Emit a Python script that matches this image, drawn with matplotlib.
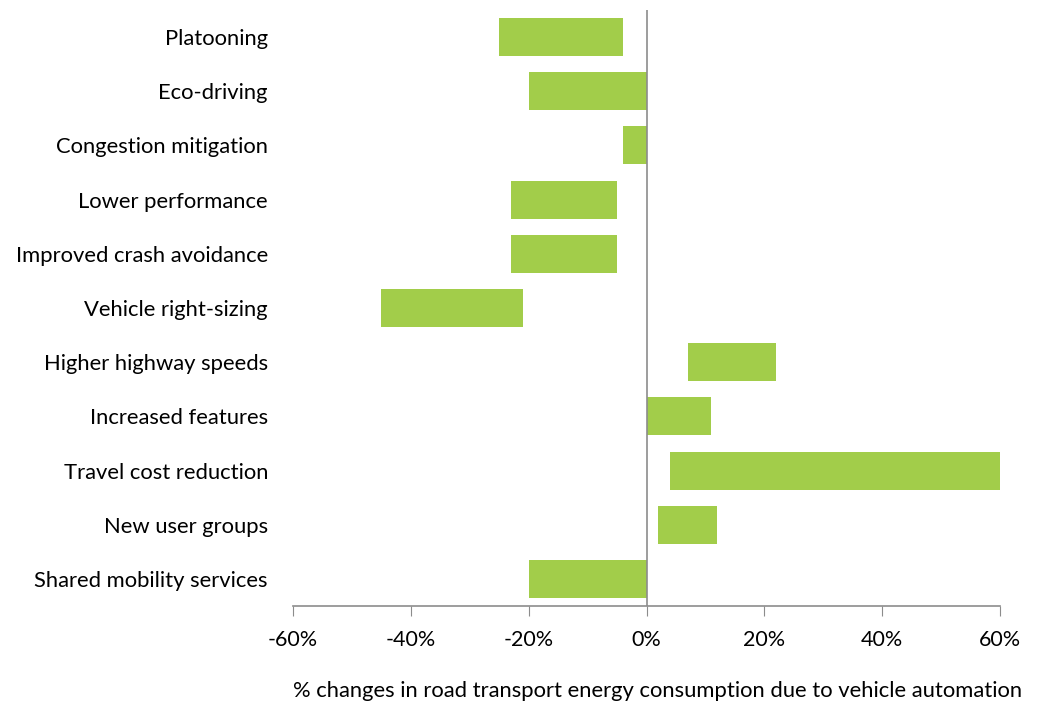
import numpy as np
import matplotlib
matplotlib.use("Agg")
import matplotlib.pyplot as plt
from matplotlib.ticker import FuncFormatter

plt.rcParams["font.family"] = ["Lato", "DejaVu Sans"]

categories = [
    "Platooning", "Eco-driving", "Congestion mitigation", "Lower performance",
    "Improved crash avoidance", "Vehicle right-sizing", "Higher highway speeds",
    "Increased features", "Travel cost reduction", "New user groups",
    "Shared mobility services",
]
low = [-25, -20, -4, -23, -23, -45, 7, 0, 4, 2, -20]
high = [-4, 0, 0, -5, -5, -21, 22, 11, 60, 12, 0]
xticks = [-60, -40, -20, 0, 20, 40, 60]

fig = plt.figure(figsize=(10.4, 7.05), dpi=100)
ax = fig.add_axes([293 / 1040, 1 - 606 / 705, 707 / 1040, 596 / 705])

y = np.arange(len(categories))
widths = np.array(high) - np.array(low)
ax.barh(y, widths, left=low, height=0.7, color="#A2CD4A")

ax.set_ylim(len(categories) - 0.5, -0.5)
ax.set_xlim(-60, 60)
ax.axvline(0, color="#8c8c8c", lw=1.2, zorder=3)

ax.set_yticks(y)
ax.set_yticklabels(categories, fontsize=15.8)
ax.tick_params(axis="y", length=0, pad=18)
ax.set_xticks(xticks)
ax.xaxis.set_major_formatter(FuncFormatter(lambda v, p: f"{v:.0f}%"))
ax.tick_params(axis="x", length=7, color="#8c8c8c", labelsize=15.5, pad=10)

for s in ["top", "right", "left"]:
    ax.spines[s].set_visible(False)
ax.spines["bottom"].set_color("#8c8c8c")
ax.spines["bottom"].set_linewidth(1.2)

fig.text(1022 / 1040, 1 - 691 / 705,
         "% changes in road transport energy consumption due to vehicle automation",
         fontsize=15.8, ha="right", va="center")

fig.savefig("out.png", dpi=100)
